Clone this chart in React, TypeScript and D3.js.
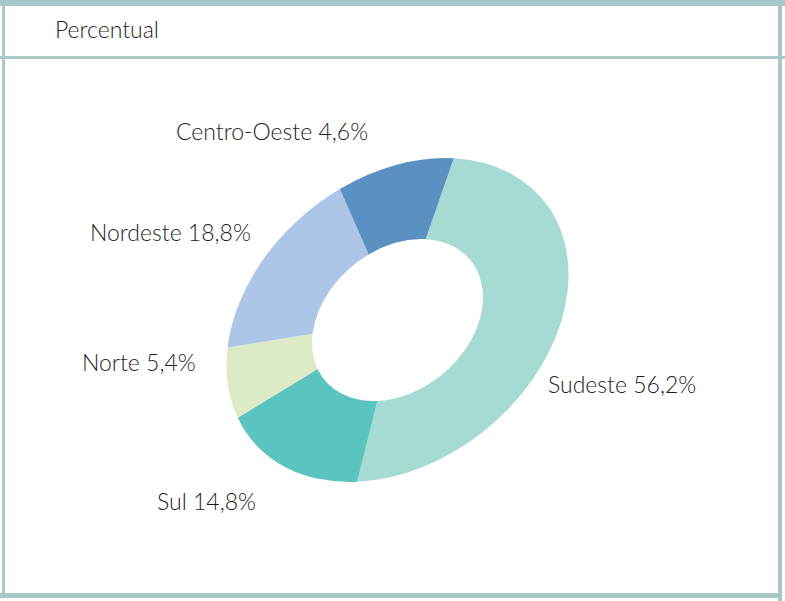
import React from "react";
import * as d3 from "d3";

// ---- data ----
const regions = ["Sudeste", "Sul", "Norte", "Nordeste", "Centro-Oeste"];
const labelPercents = [56.2, 14.8, 5.4, 18.8, 4.6];
// slice sizes as drawn in the reference ring
const sliceShares = [48.4, 15.4, 7.6, 17.7, 10.8];
const headerTitle = "Percentual";

// ---- styles / layout ----
const W = 785;
const H = 601;
const colors = ["#a6dbd3", "#5bc4bf", "#dceac6", "#adc5e7", "#5b90c3"];
const frameColor = "#a8c8c8";
const fontFamily = "Lato, 'Open Sans', sans-serif";
const cx = 397.5;
const cy = 320;
const tilt = -39.5; // degrees
const semiMajor = 188.8;
const semiMinor = 140.8;
const startDeg = 50.8;
// label anchors (text start x, baseline y)
const labelLayout: Record<string, [number, number]> = {
  Sudeste: [548, 393],
  Sul: [157, 510],
  Norte: [82, 371],
  Nordeste: [90, 241],
  "Centro-Oeste": [176, 140],
};

const fmt = (v: number) => v.toFixed(1).replace(".", ",") + "%";

export default function App() {
  const pie = d3
    .pie<number>()
    .sort(null)
    .value((d) => d)
    .startAngle((startDeg * Math.PI) / 180)
    .endAngle(((startDeg + 360) * Math.PI) / 180);
  const arcs = pie(sliceShares);
  const arc = d3.arc<d3.PieArcDatum<number>>().innerRadius(50).outerRadius(100);

  return (
    <svg
      width={W}
      height={H}
      style={{ position: "absolute", left: 0, top: 0, background: "#fff" }}
    >
      {/* frame */}
      <rect x={0} y={0} width={W} height={6} fill={frameColor} />
      <rect x={2} y={0} width={3} height={596} fill={frameColor} />
      <rect x={778} y={0} width={4} height={H} fill={frameColor} />
      <rect x={0} y={56} width={W} height={3} fill={frameColor} />
      <rect x={0} y={593} width={782} height={5} fill={frameColor} />

      <text x={55} y={38} fontFamily={fontFamily} fontSize={23} fontWeight={300} fill="#1e1e1e">
        {headerTitle}
      </text>

      <g
        transform={`translate(${cx},${cy}) rotate(${tilt}) scale(${semiMajor / 100},${semiMinor / 100})`}
      >
        {arcs.map((a, i) => (
          <path key={regions[i]} d={arc(a) || ""} fill={colors[i]} />
        ))}
      </g>

      {regions.map((r, i) => {
        const [x, y] = labelLayout[r];
        return (
          <text
            key={r}
            x={x}
            y={y}
            fontFamily={fontFamily}
            fontSize={23}
            fontWeight={300}
            fill="#1e1e1e"
          >
            {`${r} ${fmt(labelPercents[i])}`}
          </text>
        );
      })}
    </svg>
  );
}
